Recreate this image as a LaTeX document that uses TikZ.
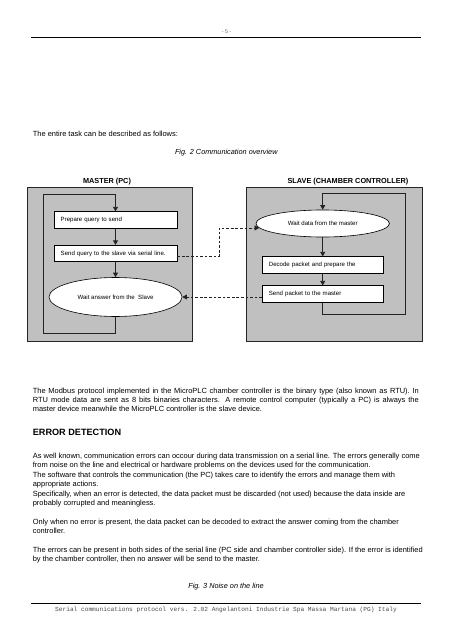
\documentclass[tikz,border=0pt]{standalone}
\usepackage{fontspec}
\setmainfont{Liberation Sans}
\newfontfamily\footmono{Liberation Mono}
\usetikzlibrary{arrows.meta,shapes.geometric}
\definecolor{boxgray}{RGB}{192,192,192}
\definecolor{linedark}{RGB}{35,35,35}
\newcommand\bodyf{\fontsize{9.8pt}{12.4pt}\selectfont}
\newcommand\boxf{\fontsize{8pt}{9.6pt}\selectfont}
\begin{document}
\begin{tikzpicture}[x=1.3141pt,y=-1.3141pt,
  txt/.style={inner sep=0pt, anchor=base west, font=\bodyf},
  ctxt/.style={inner sep=0pt, anchor=base, font=\bodyf},
  panel/.style={draw=black!85, line width=1.1pt, fill=boxgray, minimum height=202.4pt, inner sep=0pt},
  stepbox/.style={draw=black, line width=0.8pt, fill=white, minimum height=21.7pt, inner xsep=8.8pt, inner ysep=0pt, align=left, font=\boxf},
  waitell/.style={ellipse, draw=black, line width=0.8pt, fill=white, inner sep=0pt, font=\boxf},
  flow/.style={draw=linedark, line width=1.1pt, -{Triangle[length=6pt,width=6.5pt]}},
  loopl/.style={draw=linedark, line width=1.1pt, -{Triangle[length=6pt,width=6.5pt]}},
  dashl/.style={draw=linedark, line width=0.9pt, dash pattern=on 3.5pt off 2.5pt, -{Triangle[length=6pt,width=6.5pt]}},
  rule/.style={draw=black, line width=1pt}
]
\useasboundingbox[fill=white] (0,0) rectangle (453,640);

% header
\node[inner sep=0pt, anchor=base, font=\fontsize{7pt}{8pt}\selectfont, text=black!60] (pg) at (226.5,34) {- 5 -};
\coordinate (hl) at (31,37);
\coordinate (hr) at (421,37);
\draw[rule] (hl) -- (hr);

\node[txt] (intro) at (32.7,136.5) {The entire task can be described as follows:};
\node[ctxt, font=\fontsize{9.6pt}{11pt}\selectfont\itshape] (fig2) at (226.3,154.5) {Fig. 2 Communication overview};

% panels
\node[inner sep=0pt, anchor=base, font=\fontsize{9.6pt}{11pt}\selectfont\bfseries] (mlab) at (107,183) {MASTER (PC)};
\node[inner sep=0pt, anchor=base, font=\fontsize{9.6pt}{11pt}\selectfont\bfseries] (slab) at (348,183) {SLAVE (CHAMBER CONTROLLER)};
\node[panel, minimum width=216.8pt] (mpanel) at (109.5,264) {};
\node[panel, minimum width=231.3pt] (spanel) at (334,264) {};

% master steps
\node[stepbox, text width=161.6pt-17.6pt] (prep) at (115.5,220) {Prepare query to send};
\node[stepbox, text width=161.6pt-17.6pt] (sendq) at (115.5,253.5) {Send query to the slave via serial line.};
\node[waitell, minimum width=174.8pt, minimum height=51.2pt] (wa) at (115.5,297) {Wait answer from the~ Slave};

% slave steps
\node[waitell, minimum width=175.4pt, minimum height=35.5pt] (wd) at (322.7,223.5) {Wait data from the master};
\node[stepbox, text width=159pt-17.6pt] (dec) at (322.7,265) {Decode packet and prepare the};
\node[stepbox, text width=159pt-17.6pt] (sendp) at (322.7,294) {Send packet to the master};

% flows
\draw[flow] (prep.south) -- (sendq.north);
\draw[flow] (sendq.south) -- (wa.north);
\draw[flow] (wd.south) -- (dec.north);
\draw[flow] (dec.south) -- (sendp.north);

% loops
\coordinate (mbl) at (43,333);
\coordinate (mtl) at (43,194);
\draw[loopl] (wa.south) |- (mbl) -- (mtl) -| (prep.north);
\coordinate (sbr) at (405,314);
\coordinate (str) at (405,193);
\draw[loopl] (sendp.south) |- (sbr) -- (str) -| (wd.north);

% dashed links
\coordinate (qa) at ([yshift=-4pt]sendq.east);
\coordinate (wdin) at (wd.184);
\coordinate (dx) at (219,240);
\draw[dashl] (qa) -- (qa -| dx) -- (dx |- wdin) -- (wdin);
\coordinate (pb) at (sendp.west |- wa.east);
\draw[dashl] (pb) -- (wa.east);

% paragraph 1 (justified)
\node[txt] (p1a) at (32.7,393) {\makebox[507.2pt][s]{The Modbus protocol implemented in the MicroPLC chamber controller is the binary type (also known as RTU). In}};
\node[txt] (p1b) at (32.7,402.4) {\makebox[507.2pt][s]{RTU mode data are sent as 8 bits binaries characters. A remote control computer (typically a PC) is always the}};
\node[txt] (p1c) at (32.7,411.8) {master device meanwhile the MicroPLC controller is the slave device.};

\node[inner sep=0pt, anchor=base west, font=\fontsize{12pt}{14pt}\selectfont\bfseries] (errh) at (32.7,435.5) {ERROR DETECTION};

\node[txt] (p2a) at (32.7,458.5) {As well known, communication errors can occour during data transmission on a serial line. The errors generally come};
\node[txt] (p2b) at (32.7,467.9) {from noise on the line and electrical or hardware problems on the devices used for the communication.};
\node[txt] (p2c) at (32.7,477.3) {The software that controls the communication (the PC) takes care to identify the errors and manage them with};
\node[txt] (p2d) at (32.7,486.7) {appropriate actions.};
\node[txt] (p2e) at (32.7,496.1) {Specifically, when an error is detected, the data packet must be discarded (not used) because the data inside are};
\node[txt] (p2f) at (32.7,505.5) {probably corrupted and meaningless.};
\node[txt] (p3a) at (32.7,524.3) {Only when no error is present, the data packet can be decoded to extract the answer coming from the chamber};
\node[txt] (p3b) at (32.7,533.7) {controller.};
\node[txt] (p4a) at (32.7,552.5) {The errors can be present in both sides of the serial line (PC side and chamber controller side). If the error is identified};
\node[txt] (p4b) at (32.7,561.9) {by the chamber controller, then no answer will be send to the master.};

\node[ctxt, font=\fontsize{9.6pt}{11pt}\selectfont\itshape] (fig3) at (226,588.5) {Fig. 3 Noise on the line};

% footer
\coordinate (fl) at (31,603);
\coordinate (fr) at (421,603);
\draw[rule] (fl) -- (fr);
\node[inner sep=0pt, anchor=base, font=\footmono\fontsize{8.1pt}{10pt}\selectfont, text=black!70] (foot) at (226,611) {Serial communications protocol vers. 2.02 Angelantoni Industrie Spa Massa Martana (PG) Italy};
\end{tikzpicture}
\end{document}
